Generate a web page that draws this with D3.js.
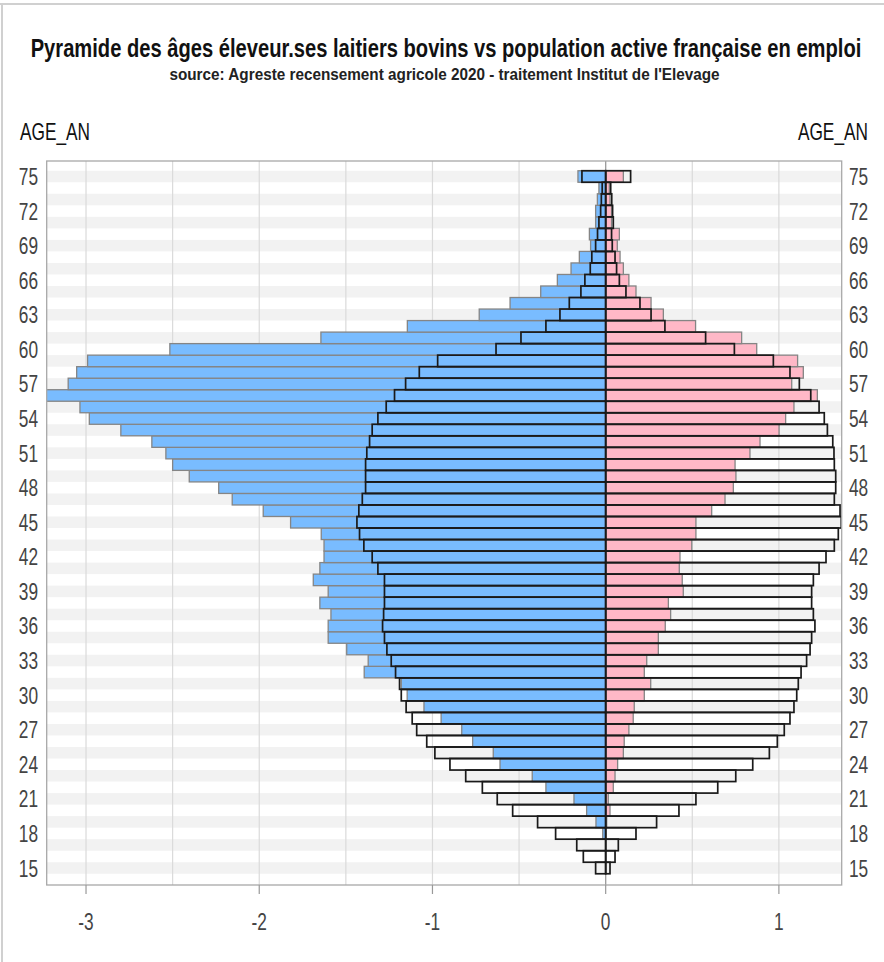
<!DOCTYPE html>
<html>
<head>
<meta charset="utf-8">
<script src="https://cdn.jsdelivr.net/npm/d3@7"></script>
<style>
  body { margin: 0; background: #fff; }
  svg { display: block; }
</style>
</head>
<body>
<svg id="chart" width="884" height="962"></svg>
<script>
// ages 15 .. 75, bottom to top
var ages = d3.range(15, 76);

// éleveurs (left, blue)
var eleveurs_h = [0, 0, 0, -0.017, -0.056, -0.110, -0.183, -0.345, -0.424, -0.610,
  -0.649, -0.768, -0.831, -0.950, -1.049, -1.146, -1.180, -1.394, -1.371, -1.495,
  -1.602, -1.602, -1.586, -1.650, -1.602, -1.688, -1.650, -1.626, -1.626, -1.642,
  -1.819, -1.977, -2.156, -2.234, -2.404, -2.500, -2.539, -2.620, -2.799, -2.981,
  -3.035, -3.260, -3.103, -3.054, -2.991, -2.516, -1.644, -1.145, -0.730, -0.552,
  -0.375, -0.279, -0.200, -0.152, -0.087, -0.094, -0.058, -0.058, -0.048, -0.039, -0.160];

// éleveuses (right, pink)
var eleveurs_f = [0, 0, 0, 0, 0.006, 0.025, 0.015, 0.044, 0.054, 0.069,
  0.102, 0.107, 0.134, 0.159, 0.165, 0.223, 0.260, 0.223, 0.237, 0.304,
  0.304, 0.344, 0.375, 0.362, 0.448, 0.442, 0.425, 0.429, 0.497, 0.521,
  0.521, 0.612, 0.689, 0.737, 0.752, 0.747, 0.833, 0.891, 1.001, 1.039,
  1.087, 1.222, 1.074, 1.141, 1.108, 0.872, 0.785, 0.519, 0.333, 0.262,
  0.175, 0.134, 0.102, 0.083, 0.067, 0.079, 0.034, 0.034, 0.025, 0.021, 0.102];

// population active en emploi (outlined)
var pop_h = [-0.058, -0.129, -0.167, -0.289, -0.393, -0.537, -0.626, -0.712, -0.808, -0.899,
  -0.986, -1.033, -1.091, -1.117, -1.152, -1.180, -1.190, -1.213, -1.238, -1.263,
  -1.277, -1.288, -1.282, -1.277, -1.277, -1.277, -1.315, -1.348, -1.396, -1.421,
  -1.436, -1.425, -1.405, -1.386, -1.386, -1.386, -1.379, -1.363, -1.348, -1.315,
  -1.267, -1.219, -1.155, -1.076, -0.970, -0.633, -0.489, -0.345, -0.264, -0.210,
  -0.143, -0.120, -0.089, -0.080, -0.058, -0.047, -0.039, -0.029, -0.025, -0.020, -0.137];

var pop_f = [0.025, 0.054, 0.073, 0.175, 0.294, 0.423, 0.521, 0.647, 0.751, 0.849,
  0.945, 0.991, 1.031, 1.064, 1.087, 1.103, 1.112, 1.128, 1.160, 1.180,
  1.189, 1.208, 1.199, 1.189, 1.189, 1.199, 1.232, 1.272, 1.320, 1.343,
  1.360, 1.353, 1.320, 1.328, 1.328, 1.320, 1.318, 1.311, 1.280, 1.262,
  1.232, 1.184, 1.118, 1.064, 0.968, 0.743, 0.577, 0.342, 0.262, 0.198,
  0.117, 0.079, 0.063, 0.054, 0.038, 0.034, 0.044, 0.040, 0.035, 0.029, 0.144];

var age_ticks = d3.range(15, 76, 3);
var x_ticks = [-3, -2, -1, 0, 1];
var grid_ticks = d3.range(-3, 1.01, 0.5);

var title_text = "Pyramide des âges éleveur.ses laitiers bovins vs population active française en emploi";
var subtitle_text = "source: Agreste recensement agricole 2020 - traitement Institut de l'Elevage";
var axis_label = "AGE_AN";

var blue_color = "#79bcff";
var pink_color = "#ffb8c7";
var font_family = "'Liberation Sans', Arial, sans-serif";
var squeeze = 0.72;   // the whole picture looks horizontally condensed

var svg = d3.select("#chart");

var plot_left = 46.7, plot_right = 841.7, plot_top = 161, plot_bottom = 885;

var x = d3.scaleLinear().domain([-3.227, 1.3626]).range([plot_left, plot_right]);
var y = d3.scaleLinear().domain([13.525, 76.345]).range([plot_bottom, plot_top]);

// condensed text helper
function add_text(px, py, str, size, weight, anchor, color, sx) {
    return svg.append("text")
        .attr("transform", "translate(" + px + "," + py + ") scale(" + (sx || squeeze) + ",1)")
        .attr("text-anchor", anchor)
        .style("font-family", font_family)
        .style("font-size", size + "px")
        .style("font-weight", weight)
        .style("fill", color)
        .text(str);
}

// outer frame (top + left)
svg.append("line").attr("x1", 0).attr("x2", 884).attr("y1", 4).attr("y2", 4)
    .attr("stroke", "#d0d0d0").attr("stroke-width", 2);
svg.append("line").attr("x1", 2).attr("x2", 2).attr("y1", 4).attr("y2", 962)
    .attr("stroke", "#d0d0d0").attr("stroke-width", 2);

// titles
add_text(446, 57, title_text, 26, "bold", "middle", "#111", 0.775);
add_text(444.5, 80, subtitle_text, 17, "bold", "middle", "#222", 0.9);
add_text(20, 140, axis_label, 24, "normal", "start", "#111");
add_text(868, 140, axis_label, 24, "normal", "end", "#111");

svg.append("clipPath").attr("id", "plot-clip")
    .append("rect")
    .attr("x", plot_left).attr("y", plot_top)
    .attr("width", plot_right - plot_left).attr("height", plot_bottom - plot_top);

var plot = svg.append("g").attr("clip-path", "url(#plot-clip)");

// alternating background bands (odd ages grey)
plot.selectAll(".band")
    .data(ages.filter(function (a) { return a % 2 === 1; }))
    .enter().append("rect")
    .attr("class", "band")
    .attr("x", plot_left)
    .attr("width", plot_right - plot_left)
    .attr("y", function (a) { return y(a + 0.5); })
    .attr("height", function (a) { return y(a - 0.5) - y(a + 0.5); })
    .attr("fill", "#f2f2f2");

// vertical grid
plot.selectAll(".grid")
    .data(grid_ticks)
    .enter().append("line")
    .attr("class", "grid")
    .attr("x1", function (d) { return x(d); })
    .attr("x2", function (d) { return x(d); })
    .attr("y1", plot_top).attr("y2", plot_bottom)
    .attr("stroke", "#dadada").attr("stroke-width", 1.2);

// bars helper
function draw_bars(values, cls, stroke, stroke_w, fill) {
    plot.selectAll("." + cls)
        .data(ages.map(function (a, i) { return { age: a, value: values[i] }; })
            .filter(function (d) { return d.value !== 0; }))
        .enter().append("rect")
        .attr("class", cls)
        .attr("x", function (d) { return x(Math.min(0, d.value)); })
        .attr("width", function (d) { return Math.abs(x(d.value) - x(0)); })
        .attr("y", function (d) { return y(d.age + 0.5); })
        .attr("height", function (d) { return y(d.age - 0.5) - y(d.age + 0.5); })
        .attr("fill", fill)
        .attr("stroke", stroke)
        .attr("stroke-width", stroke_w);
}

draw_bars(eleveurs_h, "bar-h", "#858585", 1.3, blue_color);
draw_bars(eleveurs_f, "bar-f", "#858585", 1.3, pink_color);

// zero line
plot.append("line")
    .attr("x1", x(0)).attr("x2", x(0))
    .attr("y1", plot_top).attr("y2", plot_bottom)
    .attr("stroke", "#999").attr("stroke-width", 1.2);

// population active outlines
draw_bars(pop_h, "pop-h", "#1a1a1a", 1.7, "none");
draw_bars(pop_f, "pop-f", "#1a1a1a", 1.7, "none");

// plot frame
svg.append("rect")
    .attr("x", plot_left).attr("y", plot_top)
    .attr("width", plot_right - plot_left).attr("height", plot_bottom - plot_top)
    .attr("fill", "none").attr("stroke", "#a8a8a8").attr("stroke-width", 1.3);

// x axis ticks & labels
svg.selectAll(".xtick")
    .data(x_ticks)
    .enter().append("line")
    .attr("class", "xtick")
    .attr("x1", function (d) { return x(d); })
    .attr("x2", function (d) { return x(d); })
    .attr("y1", plot_bottom).attr("y2", plot_bottom + 9)
    .attr("stroke", "#999").attr("stroke-width", 1.2);

x_ticks.forEach(function (t) {
    add_text(x(t), 930, String(t), 24, "normal", "middle", "#444");
});

// age labels both sides
age_ticks.forEach(function (a) {
    add_text(38, y(a) + 8.5, String(a), 24, "normal", "end", "#444");
    add_text(849, y(a) + 8.5, String(a), 24, "normal", "start", "#444");
});
</script>
</body>
</html>
